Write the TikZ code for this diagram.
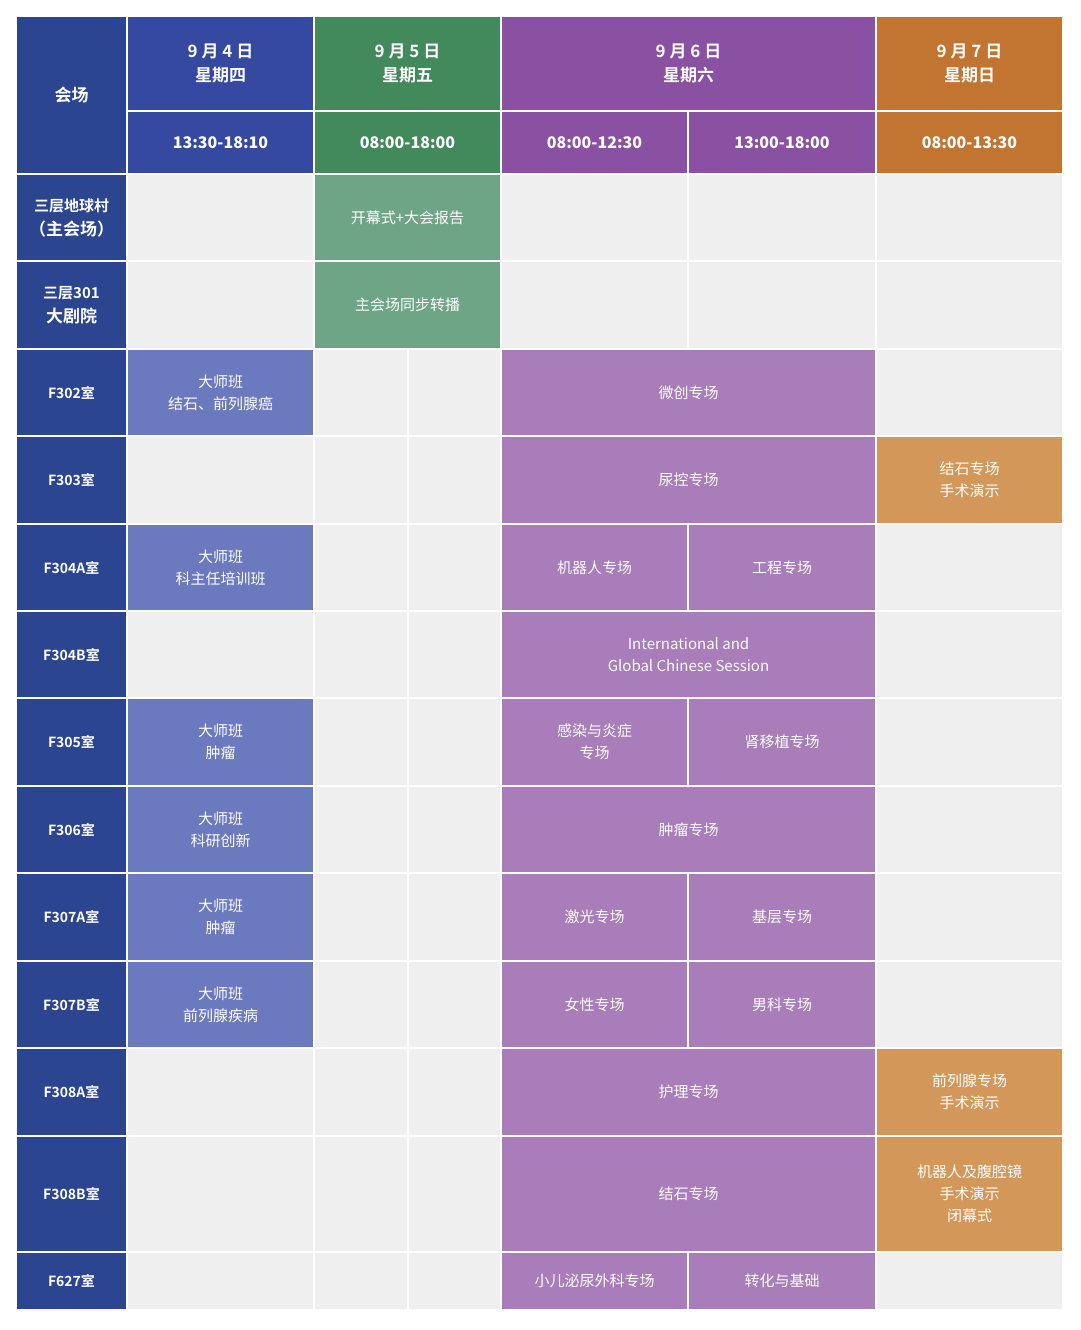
\documentclass[tikz,border=0pt]{standalone}
\usepackage{fontspec}
\setmainfont{Noto Sans CJK SC}
\newfontfamily\cjkb{Noto Sans CJK SC Bold}
\definecolor{navy}{HTML}{2B4590}
\definecolor{hblue}{HTML}{3549A0}
\definecolor{hgreen}{HTML}{42895C}
\definecolor{hpurple}{HTML}{8A50A2}
\definecolor{horange}{HTML}{C27431}
\definecolor{cblue}{HTML}{6B79BE}
\definecolor{cgreen}{HTML}{6FA587}
\definecolor{cpurple}{HTML}{A87DBA}
\definecolor{corange}{HTML}{D3975A}
\definecolor{cgray}{HTML}{EFEFEF}
\tikzset{cellbox/.style={draw=white,line width=1.2pt,inner sep=0pt,align=center,text=white,font=\fontsize{15}{22}\selectfont},
 headbox/.style={cellbox,font=\cjkb\fontsize{17}{24}\selectfont},
 timebox/.style={cellbox,font=\fontsize{16}{20}\selectfont\bfseries}}
\newcommand\Cell[7][cellbox]{\node[#1,fill=#7,minimum width=#3-#2,minimum height=#5-#4] (n#2x#4) at ({(#2+#3)/2},{(#4+#5)/2}) {#6};}
\newcommand\G[4]{\Cell{#1}{#2}{#3}{#4}{}{cgray}}
\begin{document}
\begin{tikzpicture}[x=1pt,y=-1pt]
\useasboundingbox (0,0) rectangle (1080,1330);
% header
\Cell[headbox]{16}{127}{16}{174}{会场}{navy}
\Cell[headbox]{127}{314}{16}{111}{9 月 4 日\\星期四}{hblue}
\Cell[headbox]{314}{501}{16}{111}{9 月 5 日\\星期五}{hgreen}
\Cell[headbox]{501}{876}{16}{111}{9 月 6 日\\星期六}{hpurple}
\Cell[headbox]{876}{1063}{16}{111}{9 月 7 日\\星期日}{horange}
\Cell[timebox]{127}{314}{111}{174}{13:30-18:10}{hblue}
\Cell[timebox]{314}{501}{111}{174}{08:00-18:00}{hgreen}
\Cell[timebox]{501}{688}{111}{174}{08:00-12:30}{hpurple}
\Cell[timebox]{688}{876}{111}{174}{13:00-18:00}{hpurple}
\Cell[timebox]{876}{1063}{111}{174}{08:00-13:30}{horange}
% left column
\Cell[headbox]{16}{127}{174}{261}{\fontsize{15}{22}\selectfont 三层地球村\\（主会场）}{navy}
\Cell[headbox]{16}{127}{261}{349}{\fontsize{15}{22}\selectfont 三层301\\大剧院}{navy}
\Cell[headbox]{16}{127}{349}{436}{\fontsize{14}{20}\selectfont F302室}{navy}
\Cell[headbox]{16}{127}{436}{524}{\fontsize{14}{20}\selectfont F303室}{navy}
\Cell[headbox]{16}{127}{524}{611}{\fontsize{14}{20}\selectfont F304A室}{navy}
\Cell[headbox]{16}{127}{611}{698}{\fontsize{14}{20}\selectfont F304B室}{navy}
\Cell[headbox]{16}{127}{698}{786}{\fontsize{14}{20}\selectfont F305室}{navy}
\Cell[headbox]{16}{127}{786}{873}{\fontsize{14}{20}\selectfont F306室}{navy}
\Cell[headbox]{16}{127}{873}{961}{\fontsize{14}{20}\selectfont F307A室}{navy}
\Cell[headbox]{16}{127}{961}{1048}{\fontsize{14}{20}\selectfont F307B室}{navy}
\Cell[headbox]{16}{127}{1048}{1136}{\fontsize{14}{20}\selectfont F308A室}{navy}
\Cell[headbox]{16}{127}{1136}{1252}{\fontsize{14}{20}\selectfont F308B室}{navy}
\Cell[headbox]{16}{127}{1252}{1310}{\fontsize{14}{20}\selectfont F627室}{navy}
% row1
\G{127}{314}{174}{261}
\Cell{314}{501}{174}{261}{开幕式+大会报告}{cgreen}
\G{501}{688}{174}{261}\G{688}{876}{174}{261}\G{876}{1063}{174}{261}
% row2
\G{127}{314}{261}{349}
\Cell{314}{501}{261}{349}{主会场同步转播}{cgreen}
\G{501}{688}{261}{349}\G{688}{876}{261}{349}\G{876}{1063}{261}{349}
% row3
\Cell{127}{314}{349}{436}{大师班\\结石、前列腺癌}{cblue}
\G{314}{408}{349}{436}\G{408}{501}{349}{436}
\Cell{501}{876}{349}{436}{微创专场}{cpurple}
\G{876}{1063}{349}{436}
% row4
\G{127}{314}{436}{524}\G{314}{408}{436}{524}\G{408}{501}{436}{524}
\Cell{501}{876}{436}{524}{尿控专场}{cpurple}
\Cell{876}{1063}{436}{524}{结石专场\\手术演示}{corange}
% row5
\Cell{127}{314}{524}{611}{大师班\\科主任培训班}{cblue}
\G{314}{408}{524}{611}\G{408}{501}{524}{611}
\Cell{501}{688}{524}{611}{机器人专场}{cpurple}
\Cell{688}{876}{524}{611}{工程专场}{cpurple}
\G{876}{1063}{524}{611}
% row6
\G{127}{314}{611}{698}\G{314}{408}{611}{698}\G{408}{501}{611}{698}
\Cell{501}{876}{611}{698}{International and\\Global Chinese Session}{cpurple}
\G{876}{1063}{611}{698}
% row7
\Cell{127}{314}{698}{786}{大师班\\肿瘤}{cblue}
\G{314}{408}{698}{786}\G{408}{501}{698}{786}
\Cell{501}{688}{698}{786}{感染与炎症\\专场}{cpurple}
\Cell{688}{876}{698}{786}{肾移植专场}{cpurple}
\G{876}{1063}{698}{786}
% row8
\Cell{127}{314}{786}{873}{大师班\\科研创新}{cblue}
\G{314}{408}{786}{873}\G{408}{501}{786}{873}
\Cell{501}{876}{786}{873}{肿瘤专场}{cpurple}
\G{876}{1063}{786}{873}
% row9
\Cell{127}{314}{873}{961}{大师班\\肿瘤}{cblue}
\G{314}{408}{873}{961}\G{408}{501}{873}{961}
\Cell{501}{688}{873}{961}{激光专场}{cpurple}
\Cell{688}{876}{873}{961}{基层专场}{cpurple}
\G{876}{1063}{873}{961}
% row10
\Cell{127}{314}{961}{1048}{大师班\\前列腺疾病}{cblue}
\G{314}{408}{961}{1048}\G{408}{501}{961}{1048}
\Cell{501}{688}{961}{1048}{女性专场}{cpurple}
\Cell{688}{876}{961}{1048}{男科专场}{cpurple}
\G{876}{1063}{961}{1048}
% row11
\G{127}{314}{1048}{1136}\G{314}{408}{1048}{1136}\G{408}{501}{1048}{1136}
\Cell{501}{876}{1048}{1136}{护理专场}{cpurple}
\Cell{876}{1063}{1048}{1136}{前列腺专场\\手术演示}{corange}
% row12
\G{127}{314}{1136}{1252}\G{314}{408}{1136}{1252}\G{408}{501}{1136}{1252}
\Cell{501}{876}{1136}{1252}{结石专场}{cpurple}
\Cell{876}{1063}{1136}{1252}{机器人及腹腔镜\\手术演示\\闭幕式}{corange}
% row13
\G{127}{314}{1252}{1310}\G{314}{408}{1252}{1310}\G{408}{501}{1252}{1310}
\Cell{501}{688}{1252}{1310}{小儿泌尿外科专场}{cpurple}
\Cell{688}{876}{1252}{1310}{转化与基础}{cpurple}
\G{876}{1063}{1252}{1310}
\end{tikzpicture}
\end{document}
